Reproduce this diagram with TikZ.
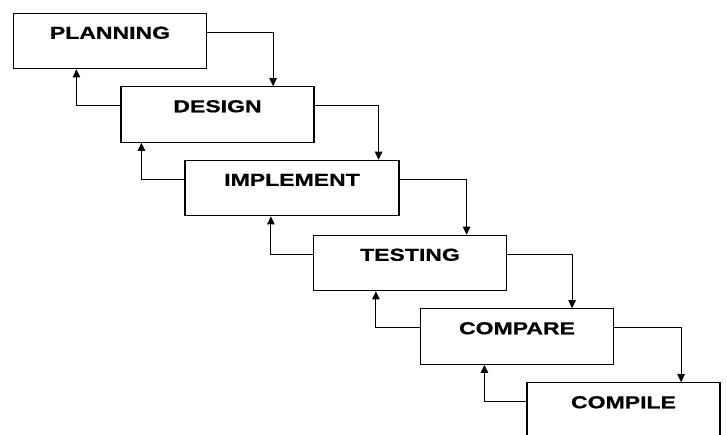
\documentclass[tikz,border=0pt]{standalone}
\usepackage{fontspec}
\newfontfamily\etapefont[FakeStretch=1.33,FakeBold=0.8]{Liberation Sans}
\usetikzlibrary{arrows.meta}
\tikzset{>={Triangle[length=8pt,width=7.5pt]},
 etape/.style={draw,line width=1.2pt,minimum width=193pt,inner xsep=0pt,inner ysep=0pt,
  text height=25.5pt,text depth=30pt,font=\etapefont\bfseries\fontsize{17.3}{20}\selectfont},
 flow/.style={line width=1pt,->}}

\begin{document}
\begin{tikzpicture}[x=1pt,y=-1pt]
\clip (0,0) rectangle (727,434);
% Les six etapes, en escalier.
\node[etape] (plan) at (110,41){PLANNING};
\node[etape] (design) at (217.5,114.5){DESIGN};
\node[etape,minimum width=214pt] (impl) at (292,188){IMPLEMENT};
\node[etape] (test) at (410,263){TESTING};
\node[etape] (comp) at (517,336.5){COMPARE};
\node[etape] (compil) at (623.5,410.5){COMPILE};
% Passage a l'etape suivante.
\draw[flow] ([yshift=9pt]plan.east) -- ++(66,0) coordinate (k) -- (k |- design.north);
\draw[flow] ([yshift=9pt]design.east) -- ++(64,0) coordinate (k) -- (k |- impl.north);
\draw[flow] ([yshift=9pt]impl.east) -- ++(67,0) coordinate (k) -- (k |- test.north);
\draw[flow] ([yshift=9pt]test.east) -- ++(65,0) coordinate (k) -- (k |- comp.north);
\draw[flow] ([yshift=9pt]comp.east) -- ++(67,0) coordinate (k) -- (k |- compil.north);
% Retour a l'etape precedente.
\draw[flow] ([yshift=9pt]design.west) -- ++(-44,0) coordinate (k) -- (k |- plan.south);
\draw[flow] ([yshift=9pt]impl.west) -- ++(-43,0) coordinate (k) -- (k |- design.south);
\draw[flow] ([yshift=9pt]test.west) -- ++(-42,0) coordinate (k) -- (k |- impl.south);
\draw[flow] ([yshift=9pt]comp.west) -- ++(-44,0) coordinate (k) -- (k |- test.south);
\draw[flow] ([yshift=9pt]compil.west) -- ++(-42,0) coordinate (k) -- (k |- comp.south);
\end{tikzpicture}
\end{document}
